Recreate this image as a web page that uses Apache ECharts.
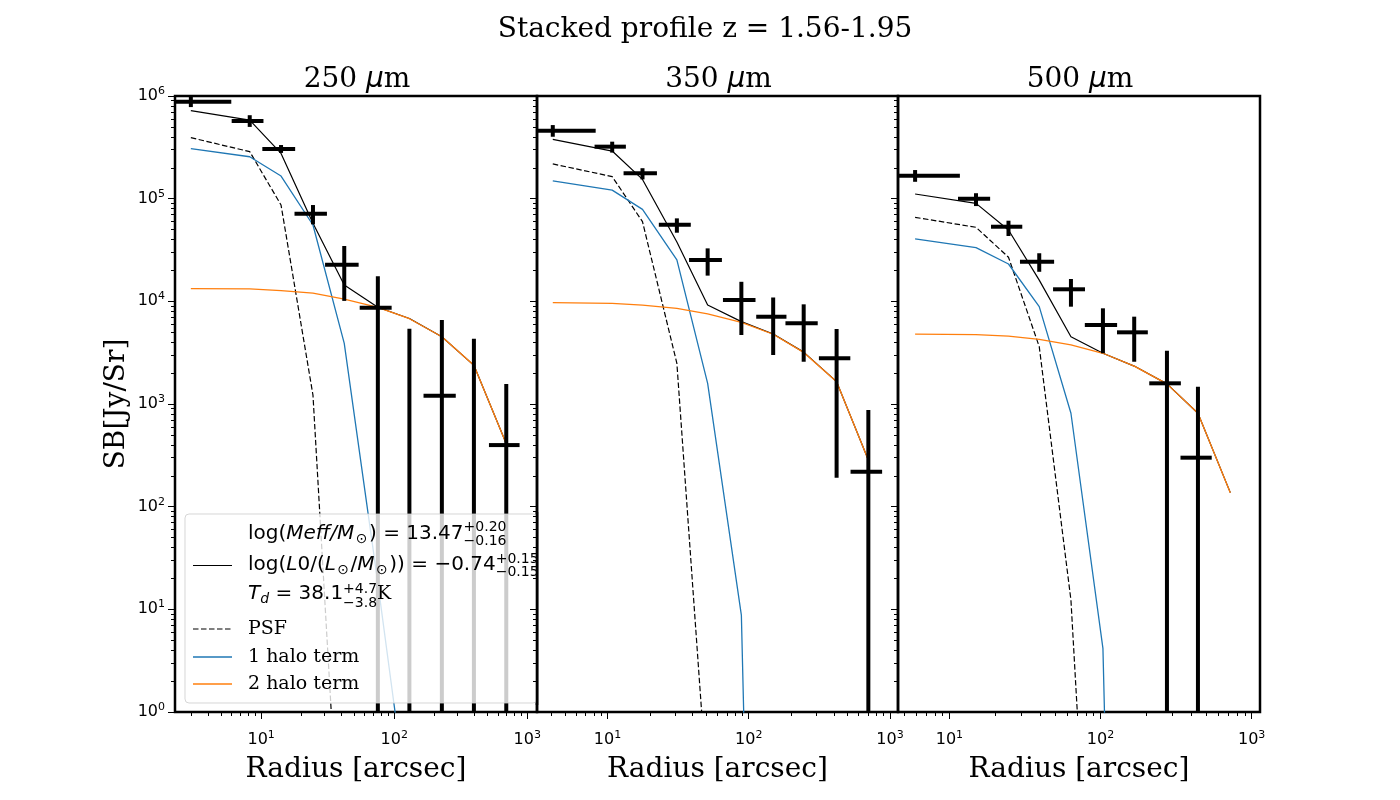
<!DOCTYPE html>
<html>
<head>
<meta charset="utf-8">
<script src="https://cdn.jsdelivr.net/npm/echarts@6/dist/echarts.min.js"></script>
<style>html,body{margin:0;background:#fff}#main{width:1400px;height:800px}</style>
</head>
<body>
<div id="main"></div>
<script>
// ---- data ----
const bands = ['250', '350', '500'];

// 250 um
const r250   = [2.96, 8.2, 14.1, 24.5, 42.1, 75.3, 130, 228, 397, 695];
const hw250  = [3.0, 2.2, 3.9, 6.7, 11.9, 20.3, 36, 62, 107, 180];
const sb250  = [8.8e5, 5.7e5, 3.05e5, 7.13e4, 2.27e4, 8.67e3, null, 1.2e3, null, 398];
const lo250  = [7.8e5, 5.0e5, 2.79e5, 5.62e4, 1.01e4, null, null, null, null, null];
const hi250  = [9.8e5, 6.5e5, 3.33e5, 8.67e4, 3.46e4, 1.76e4, 5.41e3, 6.58e3, 4.33e3, 1.57e3];
const tot250 = [7.19e5, 5.83e5, 2.76e5, 5.75e4, 1.44e4, 8.75e3, 6.8e3, 4.52e3, 2.38e3, 410];
const psf250 = [3.93e5, 2.87e5, 8.67e4, 1.22e3, 6.4e-3];
const one250 = [3.07e5, 2.56e5, 1.66e5, 5.54e4, 3.9e3, 18, 0.09];
const two250 = [1.33e4, 1.32e4, 1.27e4, 1.2e4, 1.05e4, 8.75e3, 6.77e3, 4.52e3, 2.38e3, 410];

// 350 um
const r350   = [4.1, 10.8, 17.7, 31, 51.2, 88.7, 149, 245, 419, 703];
const hw350  = [4.15, 2.7, 4.7, 7.9, 13.4, 23, 36, 63, 105, 177];
const sb350  = [4.59e5, 3.21e5, 1.77e5, 5.57e4, 2.53e4, 1.03e4, 7.08e3, 6.1e3, 2.79e3, 219];
const lo350  = [4.01e5, 2.81e5, 1.54e5, 4.66e4, 1.78e4, 4.7e3, 3.0e3, 2.58e3, 191, null];
const hi350  = [5.21e5, 3.59e5, 1.98e5, 6.43e4, 3.28e4, 1.55e4, 1.09e4, 9.35e3, 5.37e3, 874];
const tot350 = [3.78e5, 2.91e5, 1.54e5, 3.78e4, 9.2e3, 6.34e3, 4.8e3, 3.2e3, 1.65e3, 285];
const psf350 = [2.18e5, 1.64e5, 5.97e4, 2.49e3, 0.15];
const one350 = [1.49e5, 1.21e5, 7.87e4, 2.53e4, 1.59e3, 8.8, 0];
const two350 = [9.7e3, 9.55e3, 9.2e3, 8.55e3, 7.53e3, 6.25e3, 4.78e3, 3.18e3, 1.65e3, 285];

// 500 um
const r500   = [5.93, 15.0, 24.6, 39.3, 63.7, 103.7, 167, 275, 441];
const hw500  = [5.8, 3.6, 5.75, 10, 15.2, 25, 38.5, 65, 103];
const sb500  = [1.67e5, 1.0e5, 5.33e4, 2.43e4, 1.31e4, 5.88e3, 4.99e3, 1.59e3, 300];
const lo500  = [1.46e5, 8.47e4, 4.33e4, 1.94e4, 8.87e3, 3.12e3, 2.58e3, null, null];
const hi500  = [1.9e5, 1.13e5, 6.1e4, 2.94e4, 1.65e4, 8.55e3, 7.09e3, 3.3e3, 1.47e3];
const rm500  = [5.93, 15.0, 24.6, 39.3, 63.7, 103.7, 167, 275, 441, 722];
const tot500 = [1.11e5, 9.0e4, 4.95e4, 1.61e4, 4.52e3, 3.12e3, 2.34e3, 1.57e3, 812, 137];
const psf500 = [6.58e4, 5.26e4, 2.69e4, 3.62e3, 12.3, 4e-5];
const one500 = [4.05e4, 3.33e4, 2.31e4, 8.87e3, 812, 4.17, 0];
const two500 = [4.8e3, 4.73e3, 4.59e3, 4.26e3, 3.76e3, 3.12e3, 2.34e3, 1.57e3, 812, 137];

// axis ranges / ticks
const xMin = [2.25, 3.17, 4.57];
const xMax = [1183, 1140, 1135];
const yMin = 1, yMax = 1e6;
const xMajor = [10, 100, 1000];
const yMajor = [1, 10, 100, 1e3, 1e4, 1e5, 1e6];
const xMinor = [2,3,4,5,6,7,8,9, 20,30,40,50,60,70,80,90, 200,300,400,500,600,700,800,900];
const yMinor = [];
[1, 10, 100, 1e3, 1e4, 1e5].forEach(d => { for (let m = 2; m <= 9; m++) yMinor.push(m * d); });

const panels = [
  {r: r250, hw: hw250, sb: sb250, lo: lo250, hi: hi250, rm: r250, tot: tot250, psf: psf250, one: one250, two: two250},
  {r: r350, hw: hw350, sb: sb350, lo: lo350, hi: hi350, rm: r350, tot: tot350, psf: psf350, one: one350, two: two350},
  {r: r500, hw: hw500, sb: sb500, lo: lo500, hi: hi500, rm: rm500, tot: tot500, psf: psf500, one: one500, two: two500}
];

// ---- layout ----
const gridLeft = [175, 537, 898];
const gridRight = [537, 898, 1260];
const TOP = 96, BOTTOM = 712;
const SERIF = 'DejaVu Serif', SANS = 'DejaVu Sans';
const BLUE = '#1f77b4', ORANGE = '#ff7f0e';

function powLabel(v) {
  const e = Math.round(Math.log10(v));
  return '{b|10}{s|' + e + '}';
}
const powRich = {
  b: {fontFamily: SANS, fontSize: 16, lineHeight: 16, color: '#000'},
  s: {fontFamily: SANS, fontSize: 11, lineHeight: 11, padding: [0, 0, 10, 0], color: '#000'}
};

// log axes can't go to zero: clip like matplotlib does
const floor = v => Math.max(v, 1e-12);
const pairs = (xs, ys) => ys.map((v, i) => [xs[i], floor(v)]);

function renderErr(params, api) {
  const r = api.value(0), hi = api.value(1), hw = api.value(2), lo = api.value(3), sb = api.value(4);
  const cs = params.coordSys;
  const box = {x: cs.x, y: cs.y, width: cs.width, height: cs.height};
  const bad = v => v == null || isNaN(v);
  const kids = [];
  const top = api.coord([r, hi]);
  const bot = api.coord([r, bad(lo) ? 1e-6 : lo]);
  const v = echarts.graphic.clipRectByRect({x: top[0] - 2, y: top[1], width: 4, height: bot[1] - top[1]}, box);
  if (v) kids.push({type: 'rect', shape: v, style: {fill: '#000'}});
  if (!bad(sb)) {
    const a = api.coord([Math.max(r - hw, 1e-6), sb]);
    const b = api.coord([r + hw, sb]);
    const h = echarts.graphic.clipRectByRect({x: a[0], y: a[1] - 2, width: b[0] - a[0], height: 4}, box);
    if (h) kids.push({type: 'rect', shape: h, style: {fill: '#000'}});
  }
  return {type: 'group', children: kids};
}

const grids = [], xAxes = [], yAxes = [], series = [], titles = [];

titles.push({
  text: 'Stacked profile z = 1.56-1.95', left: 700, top: 11, textAlign: 'center',
  textStyle: {fontFamily: SERIF, fontSize: 28, fontWeight: 'normal', color: '#000'}
});

panels.forEach((p, i) => {
  grids.push({
    left: gridLeft[i], width: gridRight[i] - gridLeft[i], top: TOP, height: BOTTOM - TOP,
    show: true, borderColor: '#000', borderWidth: 2.5, backgroundColor: 'transparent'
  });
  titles.push({
    text: '{n|' + bands[i] + ' }{i|μ}{n|m}',
    left: (gridLeft[i] + gridRight[i]) / 2 - 4, top: 61, textAlign: 'center',
    textStyle: {
      fontWeight: 'normal',
      rich: {
        n: {fontFamily: SERIF, fontSize: 28, fontWeight: 'normal', color: '#000'},
        i: {fontFamily: SANS, fontStyle: 'italic', fontSize: 28, fontWeight: 'normal', color: '#000'}
      }
    }
  });
  // major + minor x
  xAxes.push({
    type: 'log', gridIndex: i, position: 'bottom', min: xMin[i], max: xMax[i],
    axisLine: {show: false}, splitLine: {show: false},
    axisTick: {customValues: xMajor, length: 7, lineStyle: {color: '#000', width: 1}},
    axisLabel: {customValues: xMajor, formatter: powLabel, rich: powRich, margin: 20},
    name: 'Radius [arcsec]', nameLocation: 'middle', nameGap: 36,
    nameTextStyle: {fontFamily: SERIF, fontSize: 28, color: '#000'}
  });
  xAxes.push({
    type: 'log', gridIndex: i, position: 'bottom', offset: 0, min: xMin[i], max: xMax[i],
    axisLine: {show: false}, splitLine: {show: false}, axisLabel: {show: false},
    axisTick: {customValues: xMinor, length: 4, lineStyle: {color: '#000', width: 1}}
  });
  yAxes.push({
    type: 'log', gridIndex: i, position: 'left', min: yMin, max: yMax, z: i > 0 ? 120 : 0,
    axisLine: {show: false}, splitLine: {show: false},
    axisTick: {customValues: yMajor, length: 7, lineStyle: {color: '#000', width: 1}},
    axisLabel: {show: i === 0, customValues: yMajor, formatter: powLabel, rich: powRich, margin: 10},
    name: i === 0 ? 'SB[Jy/Sr]' : '', nameLocation: 'middle', nameGap: 44,
    nameTextStyle: {fontFamily: SERIF, fontSize: 28, color: '#000'}
  });
  yAxes.push({
    type: 'log', gridIndex: i, position: 'left', offset: 0, min: yMin, max: yMax, z: i > 0 ? 120 : 0,
    axisLine: {show: false}, splitLine: {show: false}, axisLabel: {show: false},
    axisTick: {customValues: yMinor, length: 4, lineStyle: {color: '#000', width: 1}}
  });

  const xa = 2 * i, ya = 2 * i;
  const lineBase = {type: 'line', xAxisIndex: xa, yAxisIndex: ya, symbol: 'none', clip: true, silent: true};
  series.push(Object.assign({}, lineBase, {
    name: 'total', data: pairs(p.rm, p.tot), lineStyle: {color: '#000', width: 1.2}, z: 3
  }));
  series.push(Object.assign({}, lineBase, {
    name: 'PSF', data: pairs(p.rm, p.psf), lineStyle: {color: '#000', width: 1.2, type: [5.5, 2.5]}, z: 3
  }));
  series.push(Object.assign({}, lineBase, {
    name: '1 halo term', data: pairs(p.rm, p.one), lineStyle: {color: BLUE, width: 1.3}, z: 3
  }));
  series.push(Object.assign({}, lineBase, {
    name: '2 halo term', data: pairs(p.rm, p.two), lineStyle: {color: ORANGE, width: 1.3}, z: 3
  }));
  series.push({
    type: 'custom', xAxisIndex: xa, yAxisIndex: ya, silent: true, z: 4,
    renderItem: renderErr,
    encode: {x: 0, y: 1},
    data: p.r.map((r, k) => [r, p.hi[k], p.hw[k], p.lo[k], p.sb[k]])
  });
});

// ---- legend in panel 1 (drawn by hand for the stacked super/subscripts) ----
const ctx = document.createElement('canvas').getContext('2d');
function textWidth(t, font) { ctx.font = font; return ctx.measureText(t).width; }
const F = '20px "DejaVu Sans"', FI = 'italic 20px "DejaVu Sans"', FS = '14px "DejaVu Sans"';
const FR = '19px "DejaVu Serif"';
function txt(x, y, t, font) {
  return {type: 'text', x: x, y: y, z: 110, silent: true,
    style: {text: t, font: font, fill: '#000', align: 'left', verticalAlign: 'middle'}};
}
function mathRow(x, y, parts, supDy, subDy) {
  const out = [];
  let cx = x;
  parts.forEach(p => {
    if (p.sup) {
      out.push(txt(cx, y + supDy, p.sup, FS));
      out.push(txt(cx, y + subDy, p.sub, FS));
      cx += Math.max(textWidth(p.sup, FS), textWidth(p.sub, FS));
    } else {
      const f = p.f || F;
      out.push(txt(cx + (p.dx || 0), y + (p.dy || 0), p.t, f));
      cx += textWidth(p.t, f) + 2 * (p.dx || 0);
    }
  });
  return out;
}
const LX = 248, HX1 = 193, HX2 = 232;
const legend = [
  {type: 'rect', z: 105, silent: true, shape: {x: 185, y: 514, width: 352, height: 189, r: 4},
   style: {fill: 'rgba(255,255,255,0.8)', stroke: 'rgba(204,204,204,0.8)', lineWidth: 1}},
  {type: 'line', z: 112, silent: true, shape: {x1: 537, y1: 512, x2: 537, y2: 705},
   style: {stroke: '#000', lineWidth: 2.5}},
  {type: 'line', z: 110, silent: true, shape: {x1: HX1, y1: 565.5, x2: HX2, y2: 565.5}, style: {stroke: '#000', lineWidth: 1.2}},
  {type: 'line', z: 110, silent: true, shape: {x1: HX1, y1: 629, x2: HX2, y2: 629}, style: {stroke: '#000', lineWidth: 1.2, lineDash: [5.5, 2.5]}},
  {type: 'line', z: 110, silent: true, shape: {x1: HX1, y1: 657, x2: HX2, y2: 657}, style: {stroke: BLUE, lineWidth: 1.3}},
  {type: 'line', z: 110, silent: true, shape: {x1: HX1, y1: 684, x2: HX2, y2: 684}, style: {stroke: ORANGE, lineWidth: 1.3}},
  txt(LX, 629, 'PSF', FR),
  txt(LX, 657, '1 halo term', FR),
  txt(LX, 684, '2 halo term', FR)
].concat(
  mathRow(LX, 534, [
    {t: 'log('}, {t: 'Meff/M', f: FI}, {t: '⊙', f: FS, dy: 5, dx: 1.5}, {t: ') = 13.47'},
    {sup: '+0.20', sub: '−0.16'}
  ], -7, 7),
  mathRow(LX, 565, [
    {t: 'log('}, {t: 'L', f: FI}, {t: '0/('}, {t: 'L', f: FI}, {t: '⊙', f: FS, dy: 5, dx: 1.5},
    {t: '/'}, {t: 'M', f: FI}, {t: '⊙', f: FS, dy: 5, dx: 1.5}, {t: ')) = −0.74'},
    {sup: '+0.15', sub: '−0.15'}
  ], -6, 7),
  mathRow(LX, 594, [
    {t: 'T', f: FI}, {t: 'd', f: 'italic 14px "DejaVu Sans"', dy: 5}, {t: ' = 38.1'},
    {sup: '+4.7', sub: '−3.8'}, {t: 'K', f: FR}
  ], -5, 9)
);

const chart = echarts.init(document.getElementById('main'));
chart.setOption({
  animation: false,
  backgroundColor: '#fff',
  title: titles,
  grid: grids,
  xAxis: xAxes,
  yAxis: yAxes,
  series: series,
  graphic: legend
});
</script>
</body>
</html>
